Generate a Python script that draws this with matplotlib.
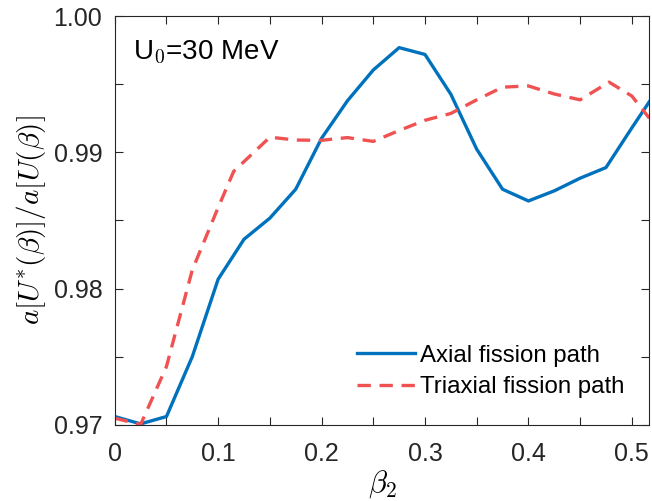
import numpy as np
from matplotlib import pyplot as plt
import matplotlib.ticker as ticker

plt.rcParams['font.family'] = ['Liberation Sans', 'DejaVu Sans']
plt.rcParams['mathtext.fontset'] = 'cm'

# axial fission path
beta_axial = [0, 0.025, 0.05, 0.075, 0.1, 0.125, 0.15, 0.175, 0.2, 0.225, 0.25,
              0.275, 0.3, 0.325, 0.35, 0.375, 0.4, 0.425, 0.45, 0.475, 0.5, 0.517]
ratio_axial = [0.97061, 0.97007, 0.97061, 0.97501, 0.98069, 0.98362, 0.98517, 0.98729,
               0.99103, 0.99378, 0.99604, 0.99768, 0.99718, 0.99426, 0.99023, 0.98729,
               0.98643, 0.98717, 0.98810, 0.98888, 0.99179, 0.99372]

# triaxial fission path
beta_triax = [0, 0.025, 0.05, 0.075, 0.1, 0.115, 0.15, 0.175, 0.2, 0.225, 0.25,
              0.275, 0.3, 0.325, 0.35, 0.375, 0.4, 0.425, 0.45, 0.478, 0.5, 0.517]
ratio_triax = [0.97049, 0.97002, 0.97428, 0.98137, 0.98595, 0.98860, 0.99111, 0.99090,
               0.99088, 0.99108, 0.99080, 0.99160, 0.99235, 0.99285, 0.99385, 0.99478,
               0.99487, 0.99428, 0.99385, 0.99515, 0.99413, 0.99250]

fig = plt.figure(figsize=(6.52, 5.01), dpi=100)
ax = fig.add_axes([0.176, 0.152, 0.820, 0.816])

ax.plot(beta_axial, ratio_axial, color='#0072BD', linestyle='-', linewidth=2.4,
        label='Axial fission path')
ax.plot(beta_triax, ratio_triax, color='#F05252', linestyle=(0, (4, 2.6)), linewidth=2.4,
        label='Triaxial fission path')

ax.set_xlim(0, 0.517)
ax.set_ylim(0.97, 1.0)
ax.xaxis.set_major_locator(ticker.MultipleLocator(0.1))
ax.xaxis.set_minor_locator(ticker.MultipleLocator(0.05))
ax.yaxis.set_major_locator(ticker.MultipleLocator(0.01))
ax.yaxis.set_minor_locator(ticker.MultipleLocator(0.005))
ax.xaxis.set_major_formatter(ticker.FuncFormatter(lambda v, p: '0' if abs(v) < 1e-9 else '%g' % v))
ax.yaxis.set_major_formatter(ticker.FormatStrFormatter('%.2f'))
ax.tick_params(which='both', direction='in', top=True, right=True, length=6,
               width=0.8, color='#262626', labelsize=18, labelcolor='#262626')
ax.tick_params(axis='x', pad=12)
ax.tick_params(axis='y', pad=9)
for s in ax.spines.values():
    s.set_color('#262626')
    s.set_linewidth(0.8)

ax.set_xlabel(r'$\beta_2$', fontsize=22, labelpad=2)
ax.set_ylabel(r'$a[U^{*}(\beta)]/a[U(\beta)]$', fontsize=21, labelpad=4)

ax.text(0.035, 0.91, r'U$_0$=30 MeV', transform=ax.transAxes, fontsize=20,
        ha='left', va='center')

ax.legend(loc='lower right', bbox_to_anchor=(0.993, 0.012), frameon=False, fontsize=17.3,
          handlelength=2.4, handletextpad=0.2, labelspacing=0.4)

plt.savefig('out.png', dpi=100)
